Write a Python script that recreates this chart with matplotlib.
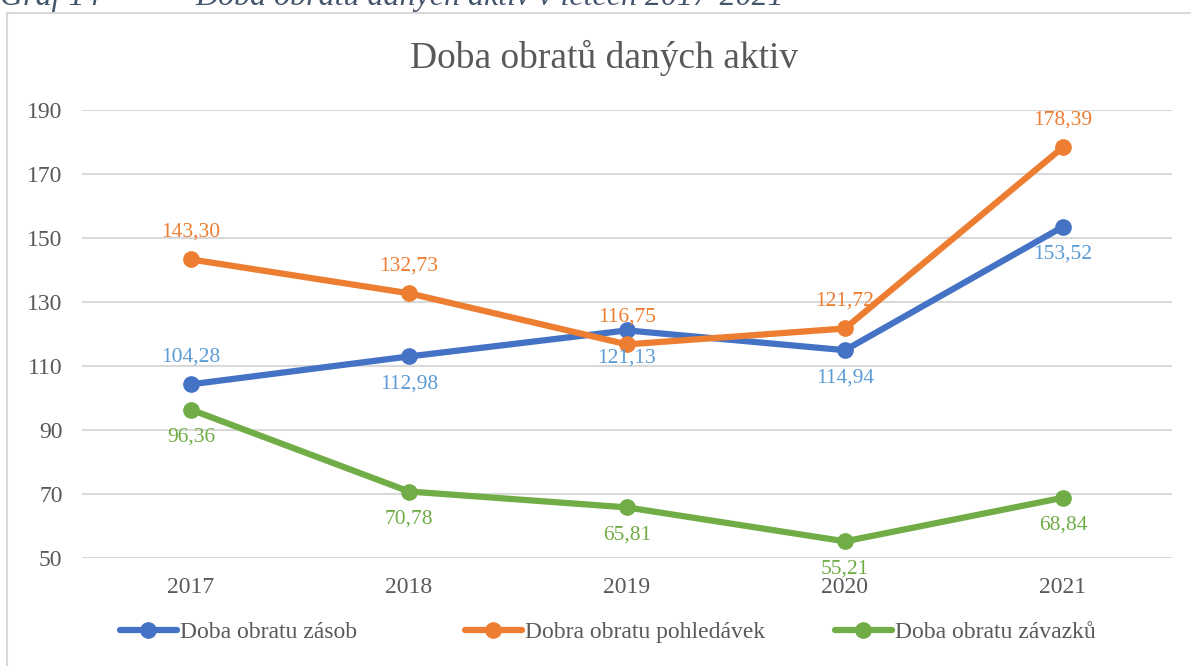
import matplotlib.pyplot as plt
from matplotlib.lines import Line2D

years = ["2017", "2018", "2019", "2020", "2021"]
zasob = [104.28, 112.98, 121.13, 114.94, 153.52]
pohledavek = [143.30, 132.73, 116.75, 121.72, 178.39]
zavazku = [96.36, 70.78, 65.81, 55.21, 68.84]
series_names = ["Doba obratu zásob", "Dobra obratu pohledávek", "Doba obratu závazků"]
title = "Doba obratů daných aktiv"
caption_num = "Graf 14"
caption_text = "Doba obratu daných aktiv v letech 2017-2021"
yticks = [50, 70, 90, 110, 130, 150, 170, 190]

plt.rcParams['font.family'] = ['Liberation Serif', 'DejaVu Serif']

W, H = 1191, 666
fig = plt.figure(figsize=(W / 100, H / 100), dpi=100)
fig.patch.set_facecolor('white')

# outer frame (left and top visible)
fig.add_artist(Line2D([7 / W, 7 / W], [0, 1 - 13 / H], transform=fig.transFigure,
                      color='#d9d9d9', linewidth=1.5))
fig.add_artist(Line2D([7 / W, 1], [1 - 13 / H, 1 - 13 / H], transform=fig.transFigure,
                      color='#d9d9d9', linewidth=1.5))

# caption clipped at top
fig.text(0 / W, 1 - 5 / H, caption_num, fontsize=23, style='italic', color='#44546a', va='baseline', ha='left')
fig.text(195 / W, 1 - 5 / H, caption_text, fontsize=23, style='italic', color='#44546a', va='baseline', ha='left')

left, right = 82 / W, 1172 / W
bottom, top = 1 - 558 / H, 1 - 110 / H
ax = fig.add_axes([left, bottom, right - left, top - bottom])

x = list(range(len(years)))
colors = ['#4472C4', '#ED7D31', '#70AD47']
label_colors = ['#5B9BD5', '#ED7D31', '#70AD47']
data = [zasob, pohledavek, zavazku]

lines = []
for vals, c, name in zip(data, colors, series_names):
    ln, = ax.plot(x, vals, color=c, linewidth=4.5, marker='o', markersize=11, label=name,
                  solid_capstyle='round', zorder=3)
    lines.append(ln)

def fmt(v):
    return f"{v:.2f}".replace('.', ',')

# label placements: +1 above, -1 below
pos = [
    [1, -1, -1, -1, -1],
    [1, 1, 1, 1, 1],
    [-1, -1, -1, -1, -1],
]
for vals, lc, p in zip(data, label_colors, pos):
    for xi, v, d in zip(x, vals, p):
        ax.annotate(fmt(v), (xi, v), xytext=(0, 13 * d), textcoords='offset points',
                    ha='center', va='bottom' if d > 0 else 'top', fontsize=15.5, color=lc, zorder=4)

ax.set_xlim(-0.5, 4.5)
ax.set_ylim(50, 190)
ax.set_yticks(yticks)
ax.set_xticks(x)
ax.set_xticklabels(years)
ax.tick_params(axis='both', length=0, labelsize=17, labelcolor='#595959')
ax.tick_params(axis='y', pad=14)
ax.tick_params(axis='x', pad=14)
ax.grid(axis='y', color='#d9d9d9', linewidth=1.5)
ax.set_axisbelow(True)
for s in ax.spines.values():
    s.set_visible(False)

fig.text(604 / W, 1 - 58 / H, title, ha='center', va='center', fontsize=27, color='#595959')

# legend entries placed individually
legend_x = [120, 465, 835]
for ln, lx in zip(lines, legend_x):
    leg = fig.legend([ln], [ln.get_label()], loc='center left',
                     bbox_to_anchor=(lx / W, 1 - 632 / H), frameon=False,
                     fontsize=17, handlelength=2.4, handletextpad=0.15,
                     borderpad=0, borderaxespad=0, labelcolor='#595959')

fig.savefig('out.png', dpi=100)
